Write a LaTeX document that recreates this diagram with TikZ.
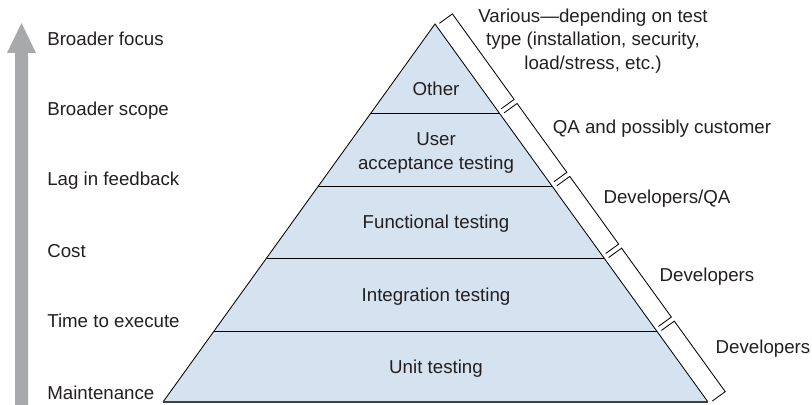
\documentclass[tikz,border=0pt]{standalone}
\usepackage{fontspec}
\setmainfont{Liberation Sans}
\usepackage{tikz}
\usetikzlibrary{calc,positioning}
\definecolor{layerblue}{HTML}{D5E3F0}
\definecolor{arrowgray}{HTML}{A8A9AD}
\definecolor{inkgray}{HTML}{231F20}
\tikzset{font=\fontsize{13.3}{16.7}\selectfont}
\tikzset{every node/.style={text=inkgray}}
\tikzset{layer/.style={align=center, inner sep=0pt},
  sidelabel/.style={anchor=west, inner sep=0pt},
  rolelabel/.style={align=center, inner sep=0pt},
  bracket/.style={draw=black, line width=0.6pt}}

\begin{document}
\begin{tikzpicture}[x=0.025cm, y=0.025cm]
  \useasboundingbox (0,0) rectangle (812,405);
  % gray arrow on the left
  \fill[arrowgray] (15,0) -- (15,352) -- (7,352) -- (21.5,382)
    -- (36,352) -- (28,352) -- (28,0) -- cycle;
  \foreach \y/\txt [count=\i] in {366/Broader focus, 294/Broader scope,
      224/Lag in feedback, 154/Cost, 84/Time to execute, 12/Maintenance}
    \node[sidelabel] (side\i) at (47,\y) {\txt};
  % the pyramid
  \coordinate (apex) at (435,381);
  \coordinate (baseL) at (163,3);
  \coordinate (baseR) at (708,3);
  \fill[layerblue] (baseL) -- (apex) -- (baseR) -- cycle;
  \foreach \f in {0.1878,0.381,0.5714,0.7646}
    \draw[line width=0.6pt] ($(baseL)!\f!(apex)$) -- ($(baseR)!\f!(apex)$);
  \draw[line width=0.6pt] (baseL) -- (apex) -- (baseR);
  \draw[line width=0.9pt, black!75] (baseL) -- (baseR);
  \node[layer] (other) at (436,316) {Other};
  \node[layer] (uat) at (436,252) {User\\acceptance testing};
  \node[layer] (functional) at (436,181) {Functional testing};
  \node[layer] (integration) at (436,108) {Integration testing};
  \node[layer] (unit) at (436,36) {Unit testing};
  % brackets along the right edge
  \begin{scope}[shift={(435,381)}, rotate=-54.16]
    \foreach \a/\b in {2/107.5, 112.5/197.5, 202.5/286, 291/376, 381/468}
      \draw[bracket] (\a,4) -- (\a,20) -- (\b,20) -- (\b,4);
  \end{scope}
  \node[rolelabel] (various) at (593,364)
    {Various---depending on test\\type (installation, security,\\load/stress, etc.)};
  \node[rolelabel] (qa) at (662,276) {QA and possibly customer};
  \node[rolelabel] (devqa) at (667,206) {Developers/QA};
  \node[rolelabel] (devint) at (707,128) {Developers};
  \node[rolelabel] (devunit) at (763,56) {Developers};
\end{tikzpicture}
\end{document}
